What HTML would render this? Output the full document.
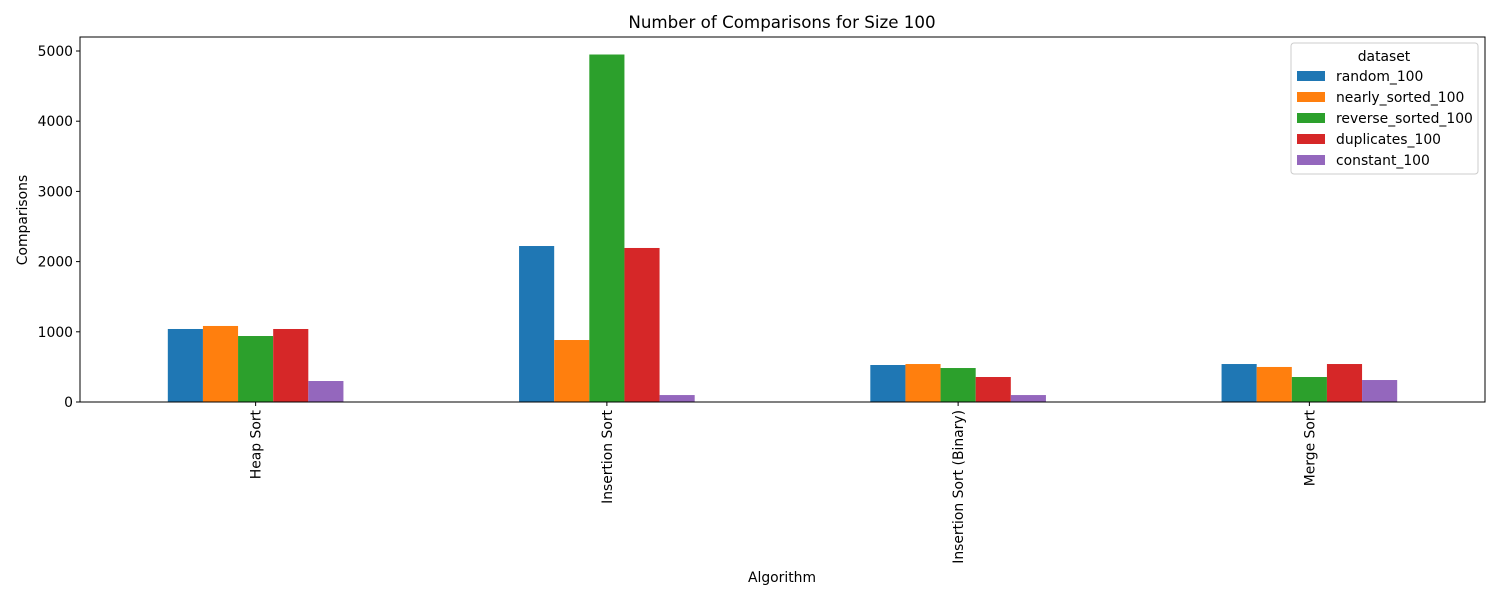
<!DOCTYPE html>
<html><head><meta charset="utf-8"><style>body{margin:0;background:#fff}svg{font-family:"DejaVu Sans","Liberation Sans",sans-serif}</style></head>
<body>
<svg id="chart" width="1500" height="600" xmlns="http://www.w3.org/2000/svg">
<text x="782" y="28" text-anchor="middle" font-size="16.7">Number of Comparisons for Size 100</text>
<text x="782" y="582" text-anchor="middle" font-size="13.9">Algorithm</text>
<text transform="translate(27,220) rotate(-90)" text-anchor="middle" font-size="13.9">Comparisons</text>
<g id="marks"></g>
<rect x="80" y="37" width="1405" height="365" fill="none" stroke="#000" stroke-width="1"/>
</svg>
<script>
const categories = ["Heap Sort","Insertion Sort","Insertion Sort (Binary)","Merge Sort"];
const seriesNames = ["random_100","nearly_sorted_100","reverse_sorted_100","duplicates_100","constant_100"];
const random100 = [1040, 2222, 527, 541];
const nearly100 = [1083, 883, 541, 499];
const reverse100 = [940, 4950, 484, 356];
const dup100 = [1040, 2194, 356, 541];
const const100 = [299, 99, 99, 313];
const yTicks = [0,1000,2000,3000,4000,5000];
const series = [random100, nearly100, reverse100, dup100, const100];
const colors = ["#1f77b4","#ff7f0e","#2ca02c","#d62728","#9467bd"];
const NS="http://www.w3.org/2000/svg";
const L=80,R=1485,T=37,B=402;
const y = v => B - v*(B-51)/5000;
const step=(R-L)/categories.length;
const xc = i => L + step*(i+0.5);
const bw = step*0.5/series.length;
const g=document.getElementById('marks');
function mk(t,a){const e=document.createElementNS(NS,t);for(const k in a)e.setAttribute(k,a[k]);return e;}
series.forEach((s,si)=>{s.forEach((v,ci)=>{
 const r=mk('rect',{x:xc(ci)-step*0.25+si*bw,y:y(v),width:bw,height:B-y(v),fill:colors[si]});
 
 
 g.appendChild(r);});});
yTicks.forEach(t=>{
 const l=mk('line',{x1:L-4,x2:L,y1:y(t),y2:y(t),stroke:'#000'});
 
 
 g.appendChild(l);
 const tx=mk('text',{x:L-7,y:y(t)+5,'text-anchor':'end','font-size':'13.9'});tx.textContent=t;
 
 
 g.appendChild(tx);});
categories.forEach((c,i)=>{
 const l=mk('line',{x1:xc(i),x2:xc(i),y1:B,y2:B+4,stroke:'#000'});
 
 
 g.appendChild(l);
 const tx=mk('text',{transform:`translate(${xc(i)+5},${B+8}) rotate(-90)`,'text-anchor':'end','font-size':'13.9'});tx.textContent=c;
 
 
 g.appendChild(tx);});
const lg=mk('g',{});


lg.appendChild(mk('rect',{x:1291,y:43,width:187,height:131,rx:3,fill:'#fff',stroke:'#ccc'}));
const lt=mk('text',{x:1384,y:61,'text-anchor':'middle','font-size':'13.9'});lt.textContent='dataset';


lg.appendChild(lt);
seriesNames.forEach((n,i)=>{
 const yy=76+i*21;
 const p=mk('rect',{x:1297,y:yy-5,width:28,height:10,fill:colors[i]});
 
 
 lg.appendChild(p);
 const t=mk('text',{x:1336,y:yy+5,'font-size':'13.9'});t.textContent=n;
 
 
 lg.appendChild(t);});
g.appendChild(lg);
</script>
</body></html>
